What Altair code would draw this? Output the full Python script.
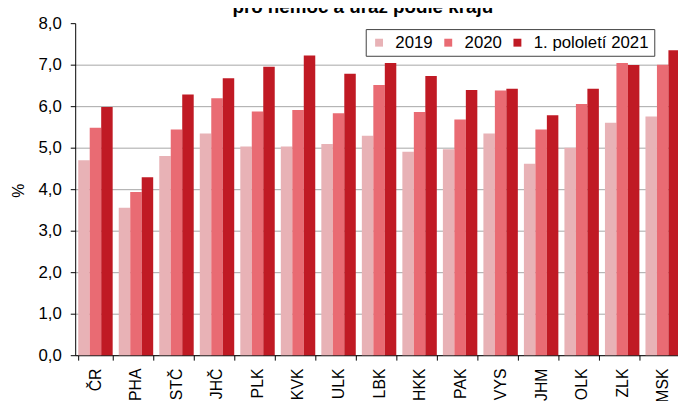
import altair as alt
import pandas as pd

regions = ["ČR", "PHA", "STČ", "JHČ", "PLK", "KVK", "ULK", "LBK", "HKK", "PAK",
           "VYS", "JHM", "OLK", "ZLK", "MSK"]
series = ["2019", "2020", "1. pololetí 2021"]
v2019 = [4.70, 3.55, 4.80, 5.34, 5.03, 5.03, 5.09, 5.29, 4.90, 4.96, 5.34, 4.61, 5.00, 5.60, 5.75]
v2020 = [5.48, 3.93, 5.44, 6.19, 5.87, 5.91, 5.83, 6.51, 5.86, 5.68, 6.38, 5.44, 6.05, 7.04, 7.00]
v2021 = [5.98, 4.29, 6.28, 6.67, 6.95, 7.22, 6.78, 7.04, 6.73, 6.39, 6.42, 5.78, 6.42, 6.99, 7.35]
colors = ["#e8b2b6", "#e96b73", "#c01a24"]
y_ticks = [0, 1, 2, 3, 4, 5, 6, 7, 8]
title_text = "pro nemoc a úraz podle krajů"

rows = []
for i, r in enumerate(regions):
    for s, vals in zip(series, [v2019, v2020, v2021]):
        rows.append({"kraj": r, "rada": s, "hodnota": vals[i]})
df = pd.DataFrame(rows)

FONT = "Liberation Sans"

chart = alt.Chart(df).mark_bar().encode(
    x=alt.X("kraj:N", sort=regions,
            scale=alt.Scale(range=[0, 615], paddingInner=0.15, paddingOuter=0.075),
            axis=alt.Axis(title=None, labelAngle=-90, labelFontSize=16, labelFont=FONT,
                          labelColor="#000", tickBand="extent", tickSize=5,
                          labelPadding=8, domainColor="#000", tickColor="#000",
                          grid=False)),
    xOffset=alt.XOffset("rada:N", sort=series, scale=alt.Scale(paddingInner=0, paddingOuter=0)),
    y=alt.Y("hodnota:Q", scale=alt.Scale(domain=[0, 8], nice=False),
            axis=alt.Axis(title="%", values=y_ticks,
                          labelExpr="replace(format(datum.value, '.1f'), '.', ',')",
                          labelFontSize=17, labelFont=FONT, labelColor="#000",
                          tickSize=5, labelPadding=9, domainColor="#000", tickColor="#000",
                          gridColor="#a6a6a6",
                          gridOpacity={"condition": {"test": "datum.value >= 8", "value": 0}, "value": 1},
                          titleFontSize=16, titleFont=FONT, titleFontWeight="normal",
                          titleColor="#000", titleAngle=270, titleBaseline="middle",
                          titleAlign="center", titleX=-57, titleY=169)),
    color=alt.Color("rada:N", sort=series,
                    scale=alt.Scale(domain=series, range=colors),
                    legend=alt.Legend(title=None, orient="none", legendX=294, legendY=6,
                                      direction="horizontal", symbolType="square",
                                      symbolSize=64, symbolStrokeWidth=0,
                                      labelFontSize=17, labelFont=FONT, labelColor="#000",
                                      columnPadding=7, padding=5, labelOffset=8,
                                      strokeColor="#404040", fillColor="white")),
).properties(
    width=610,
    height=336,
    title=alt.TitleParams(text=title_text, fontSize=19, fontWeight="bold", font=FONT,
                          anchor="middle", dx=-14, offset=0, dy=18, baseline="alphabetic",
                          color="#000"),
    autosize=alt.AutoSizeParams(type="none"),
    padding={"left": 68, "top": 13, "right": 0, "bottom": 44},
).configure_view(stroke=None)

chart.save("out.html", embed_options={"renderer": "svg", "actions": False})
